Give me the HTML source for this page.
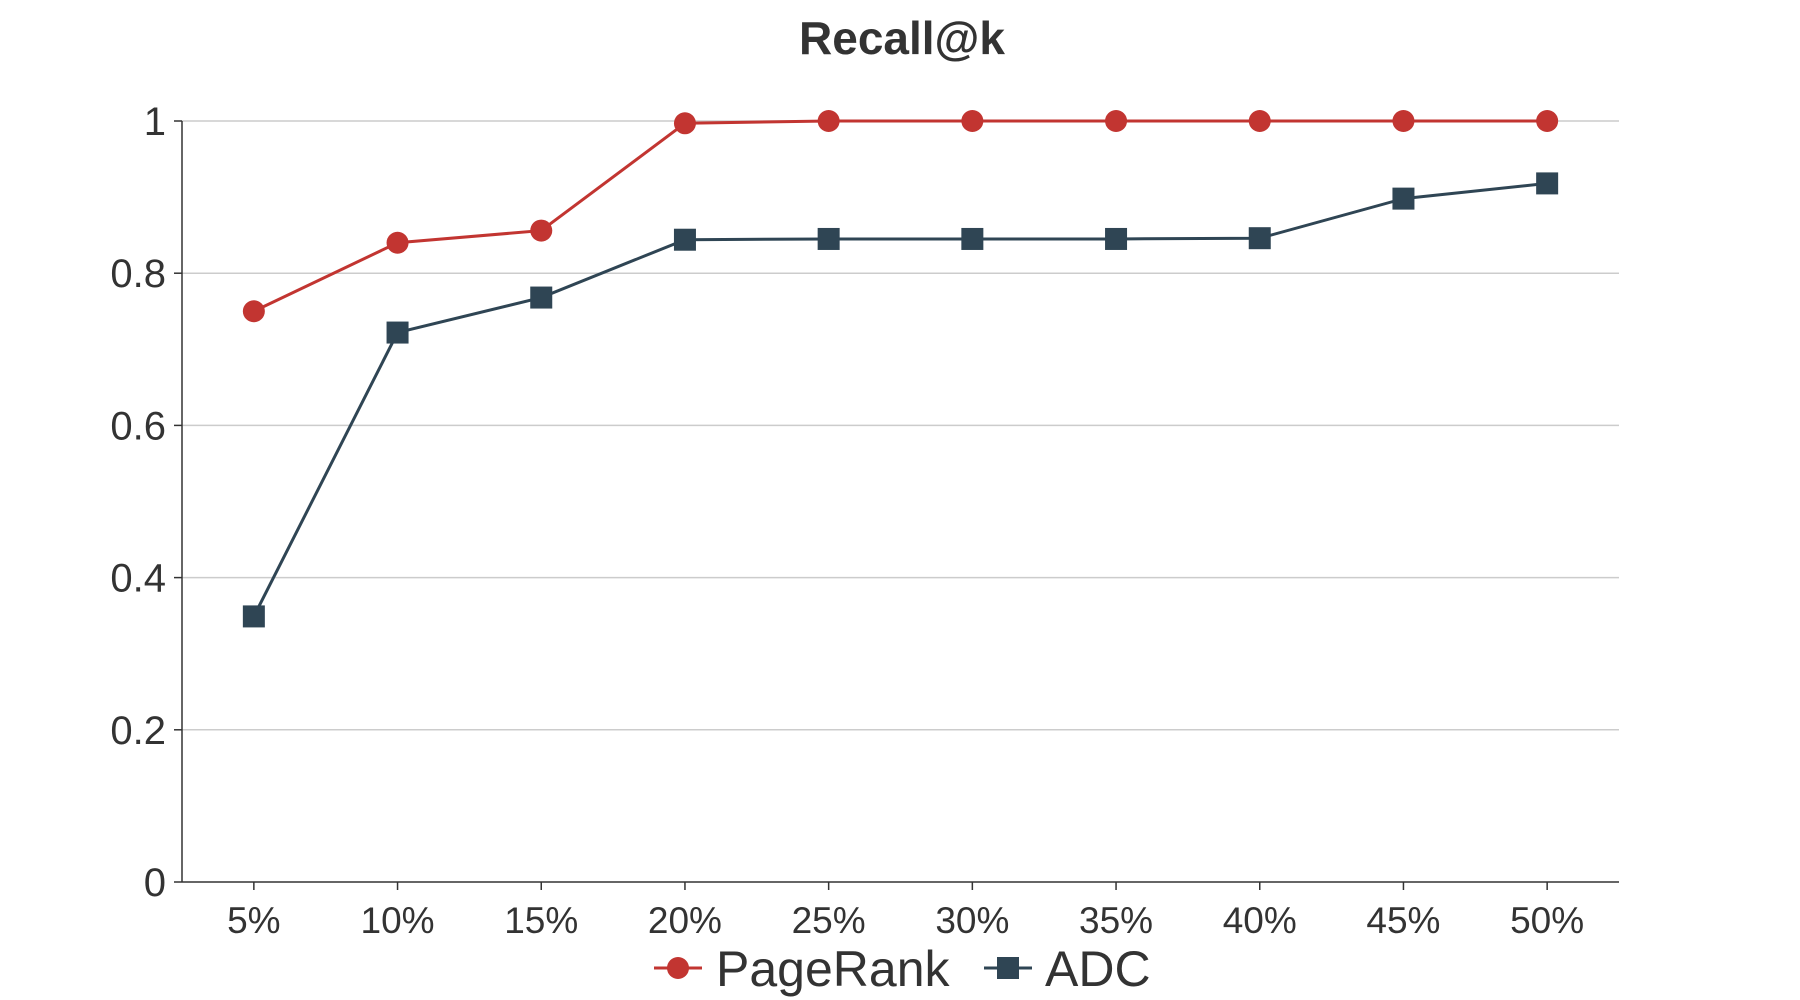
<!DOCTYPE html>
<html><head><meta charset="utf-8"><style>
html,body{margin:0;padding:0;background:#fff;}
svg{display:block;font-family:"Liberation Sans","DejaVu Sans",sans-serif;}
</style></head><body>
<svg id="chart" width="1800" height="1000">
<text x="902" y="54" text-anchor="middle" font-size="46" font-weight="bold" fill="#333">Recall@k</text>
<g id="grid"></g><g id="axes"></g><g id="series"></g>
<g>
 <g>
  <line x1="654" y1="968" x2="702" y2="968" stroke="#c23531" stroke-width="3"/>
  <circle cx="678" cy="968" r="11" fill="#c23531"/>
  <text x="716" y="986" font-size="50" fill="#333">PageRank</text>
 </g>
 <g>
  <line x1="984" y1="968" x2="1032" y2="968" stroke="#2f4554" stroke-width="3"/>
  <rect x="997" y="957" width="22" height="22" fill="#2f4554"/>
  <text x="1045" y="986" font-size="50" fill="#333">ADC</text>
 </g>
</g>
</svg>
<script>
const categories = ["5%","10%","15%","20%","25%","30%","35%","40%","45%","50%"];
const pageRank = [0.75,0.84,0.856,0.997,1,1,1,1,1,1];
const adc = [0.349,0.722,0.768,0.844,0.845,0.845,0.845,0.846,0.898,0.918];
const yTicks = [0,0.2,0.4,0.6,0.8,1];
const yTickLabels = ["0","0.2","0.4","0.6","0.8","1"];

const NS="http://www.w3.org/2000/svg";
const L=182,R=1619,T=121,B=882;
const step=(R-L)/categories.length;
function xs(i){return L+step*(i+0.5);}
function ys(v){return B-(B-T)*v;}
function mk(tag,attrs,parent){const e=document.createElementNS(NS,tag);for(const k in attrs)e.setAttribute(k,attrs[k]);parent.appendChild(e);return e;}
const grid=document.getElementById('grid'),axes=document.getElementById('axes'),ser=document.getElementById('series');
yTicks.forEach((v,i)=>{
  if(v>0){const g=mk('line',{x1:L,x2:R,y1:ys(v),y2:ys(v),stroke:'#ccc','stroke-width':1.5},grid);
  
  }
  mk('line',{x1:L-8,x2:L,y1:ys(v),y2:ys(v),stroke:'#333','stroke-width':1.5},axes);
  const t=mk('text',{x:L-16,y:ys(v)+14,'text-anchor':'end','font-size':40,fill:'#333'},axes);
  t.textContent=yTickLabels[i];
  
  
});
const ya=mk('line',{x1:L,x2:L,y1:T,y2:B,stroke:'#333','stroke-width':1.5},axes);


const xa=mk('line',{x1:L,x2:R,y1:B,y2:B,stroke:'#333','stroke-width':1.5},axes);


categories.forEach((c,i)=>{
  mk('line',{x1:xs(i),x2:xs(i),y1:B,y2:B+8,stroke:'#333','stroke-width':1.5},axes);
  const t=mk('text',{x:xs(i),y:B+51,'text-anchor':'middle','font-size':37,fill:'#333'},axes);
  t.textContent=c;
  
  
});
function draw(data,color,shape,name){
  const p=mk('polyline',{points:data.map((v,i)=>xs(i)+','+ys(v)).join(' '),fill:'none',stroke:color,'stroke-width':3},ser);
  
  
  data.forEach((v,i)=>{
    let m;
    if(shape==='circle')m=mk('circle',{cx:xs(i),cy:ys(v),r:11,fill:color},ser);
    else m=mk('rect',{x:xs(i)-11,y:ys(v)-11,width:22,height:22,fill:color},ser);
    
    
  });
}
draw(pageRank,'#c23531','circle','pagerank');
draw(adc,'#2f4554','rect','adc');
</script>
</body></html>
